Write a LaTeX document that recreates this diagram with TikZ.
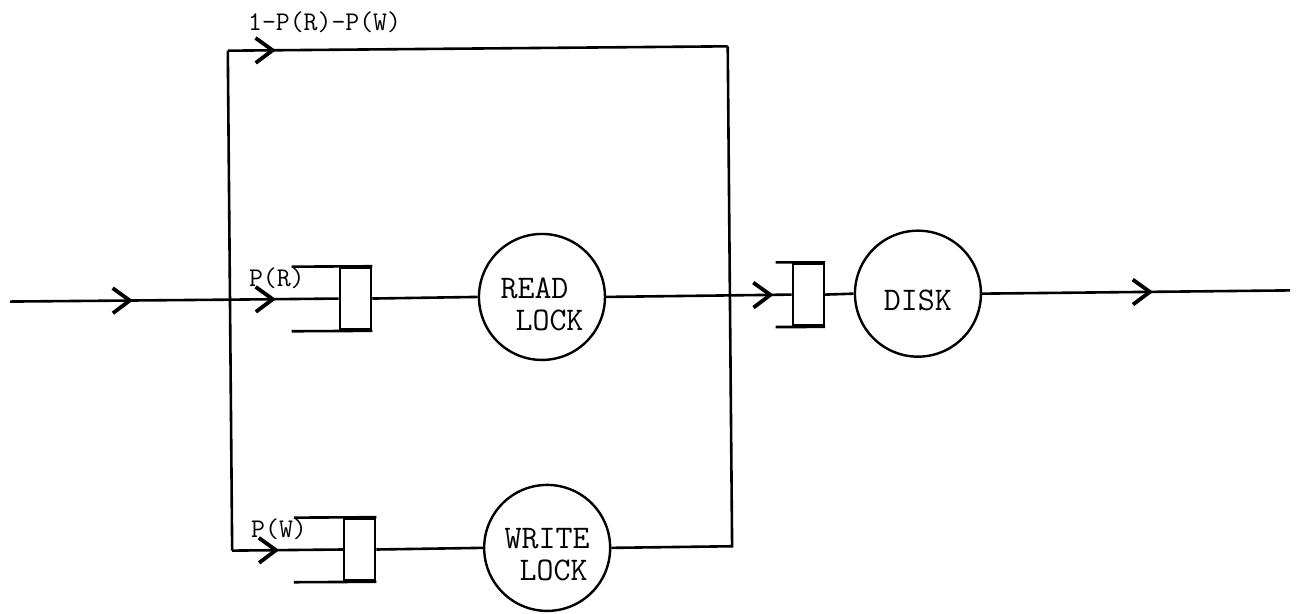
\documentclass[tikz,border=0pt]{standalone}
\usetikzlibrary{arrows.meta,decorations.markings}
\begin{document}
\begin{tikzpicture}[x=1pt,y=-1pt,
  wire/.style={line width=2.6pt},
  barb/.tip={Straight Barb[length=17pt,width=25pt,line width=3.8pt]},
  arrowat/.style={postaction={decorate},decoration={markings,mark=at position #1 with {\arrow{barb}}}},
  qbox/.style={draw,line width=2.6pt,minimum width=31pt,minimum height=62pt,inner sep=0pt},
  server/.style={draw,circle,line width=2.4pt,minimum size=126pt,inner sep=0pt},
  servertext/.style={inner sep=0pt,align=left,font=\ttfamily\fontsize{33}{32}\selectfont},
  lbl/.style={font=\ttfamily\fontsize{27}{30}\selectfont,inner sep=0pt}
]
\useasboundingbox (0,0) rectangle (1305,613);
\begin{scope}[rotate around={0.5:(650,300)}]
% coordinates
\coordinate (in) at (10,296);
\coordinate (busR) at (230,296);
\coordinate (busTop) at (230,47);
\coordinate (busW) at (230,547);
\coordinate (rightTop) at (730,47);
\coordinate (rightW) at (730,547);
\coordinate (out) at (1290,296);
% queues and servers
\node[qbox] (rq) at (355.5,296) {};
\node[server] (rl) at (542,296) {};
\node[qbox] (wq) at (357.5,547) {};
\node[server] (wl) at (545,547) {};
\node[qbox] (dq) at (808.5,296) {};
\node[server] (disk) at (918,296) {};
\node[servertext] (rlt) at ([yshift=-7pt]rl.center) {READ\\\hspace*{15pt}LOCK};
\node[servertext] (wlt) at ([yshift=-7pt]wl.center) {WRITE\\\hspace*{15pt}LOCK};
\node[servertext] (dt) at ([yshift=-7pt]disk.center) {DISK};
% open queue lines
\draw[wire] (rq.north east) -- ([xshift=-47pt]rq.north west);
\draw[wire] (rq.south east) -- ([xshift=-47pt]rq.south west);
\draw[wire] (wq.north east) -- ([xshift=-49pt]wq.north west);
\draw[wire] (wq.south east) -- ([xshift=-49pt]wq.south west);
\draw[wire] (dq.north east) -- ([xshift=-16pt]dq.north west);
\draw[wire] (dq.south east) -- ([xshift=-16pt]dq.south west);
% connectors
\draw[wire,arrowat=123pt] (in) -- (busR);
\draw[wire,arrowat=46pt] (busR) -- (rq.west);
\draw[wire] (rq.east) -- (rl.west);
\draw[wire,arrowat=-18pt] (rl.east) -- (dq.west);
\draw[wire] (dq.east) -- (disk.west);
\draw[wire,arrowat=171pt] (disk.east) -- (out);
\draw[wire] (busR) -- (busTop);
\draw[wire,arrowat=48pt] (busTop) -- (rightTop);
\draw[wire] (rightTop) -- (rightW) -- (wl.east);
\draw[wire] (busR) -- (busW);
\draw[wire,arrowat=47pt] (busW) -- (wq.west);
\draw[wire] (wq.east) -- (wl.west);
% labels
\node[lbl] (l1) at (327,19) {1-P(R)-P(W)};
\node[lbl] (l2) at (277,275) {P(R)};
\node[lbl] (l3) at (277,526) {P(W)};
\end{scope}
\end{tikzpicture}
\end{document}
